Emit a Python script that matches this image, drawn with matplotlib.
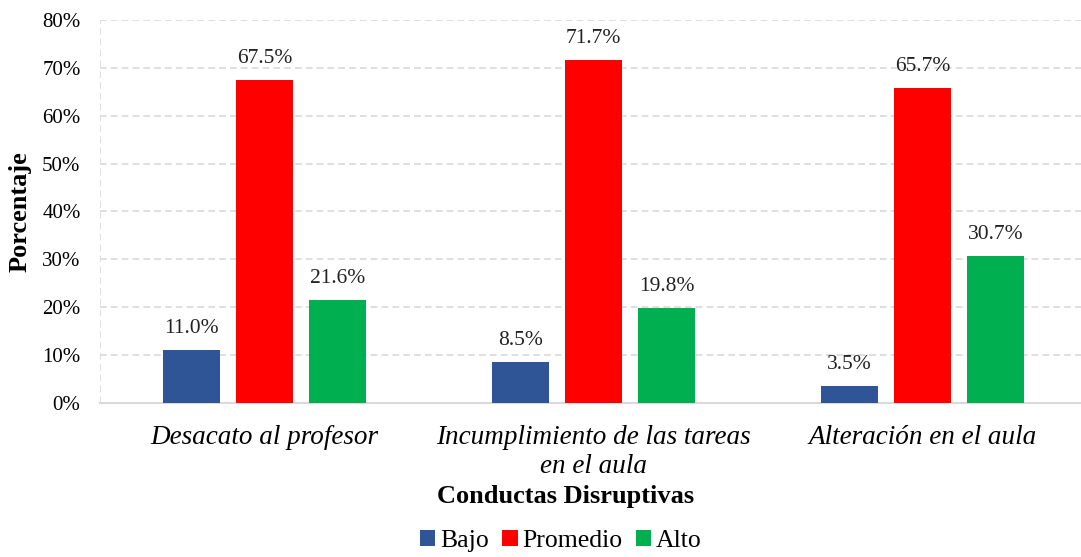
import numpy as np
import matplotlib.pyplot as plt

# Data
categories = ['Desacato al profesor', 'Incumplimiento de las tareas\nen el aula', 'Alteración en el aula']
series_names = ['Bajo', 'Promedio', 'Alto']
bajo = [11.0, 8.5, 3.5]
promedio = [67.5, 71.7, 65.7]
alto = [21.6, 19.8, 30.7]
yticks = [0, 10, 20, 30, 40, 50, 60, 70, 80]

colors = ['#2F5597', '#FF0000', '#00B050']

plt.rcParams['font.family'] = ['Liberation Serif', 'DejaVu Serif']

fig = plt.figure(figsize=(10.81, 5.57), dpi=100)
ax = fig.add_axes([100 / 1081, 1 - 403 / 557, 981 / 1081, 383 / 557])

x = np.arange(len(categories))
width = 0.173
step = 0.222
for i, (vals, name) in enumerate(zip([bajo, promedio, alto], series_names)):
    pos = x + (i - 1) * step
    bars = ax.bar(pos, vals, width, color=colors[i], label=name, zorder=3)
    for b, v in zip(bars, vals):
        ax.text(b.get_x() + b.get_width() / 2, v + 2.5, f'{v:.1f}%',
                ha='center', va='bottom', fontsize=15.5, color='#222222')

ax.set_xlim(-0.5, 2.482)
ax.set_ylim(0, 80)
ax.set_yticks(yticks)
ax.set_yticklabels([f'{t}%' for t in yticks], fontsize=15)
ax.set_xticks(x)
ax.set_xticklabels(categories, fontsize=19.5, style='italic', linespacing=1.2)
ax.tick_params(axis='both', length=0)
ax.tick_params(axis='y', pad=14)
ax.tick_params(axis='x', pad=16)

ax.grid(axis='y', color='#D9D9D9', linestyle=(0, (4, 2.5)), linewidth=1.2, zorder=0)
ax.axvline(-0.5, color='#D9D9D9', linestyle=(0, (4, 2.5)), linewidth=1.2, zorder=0)
for s in ['top', 'right', 'left']:
    ax.spines[s].set_visible(False)
ax.spines['bottom'].set_color('#D9D9D9')
ax.spines['bottom'].set_linewidth(1.5)

fig.text(20 / 1081, 1 - 212 / 557, 'Porcentaje', rotation=90, ha='center', va='center',
         fontsize=19, fontweight='bold')
fig.text(566 / 1081, 1 - 497 / 557, 'Conductas Disruptivas',
         ha='center', va='center', fontsize=19, fontweight='bold')

leg = fig.legend(loc='center', bbox_to_anchor=(561 / 1081, 1 - 541 / 557), ncol=3,
                 frameon=False, fontsize=18.5, handlelength=0.6, handleheight=0.6,
                 handletextpad=0.2, columnspacing=0.5, borderpad=0.2)

fig.savefig('out.png', dpi=100)
